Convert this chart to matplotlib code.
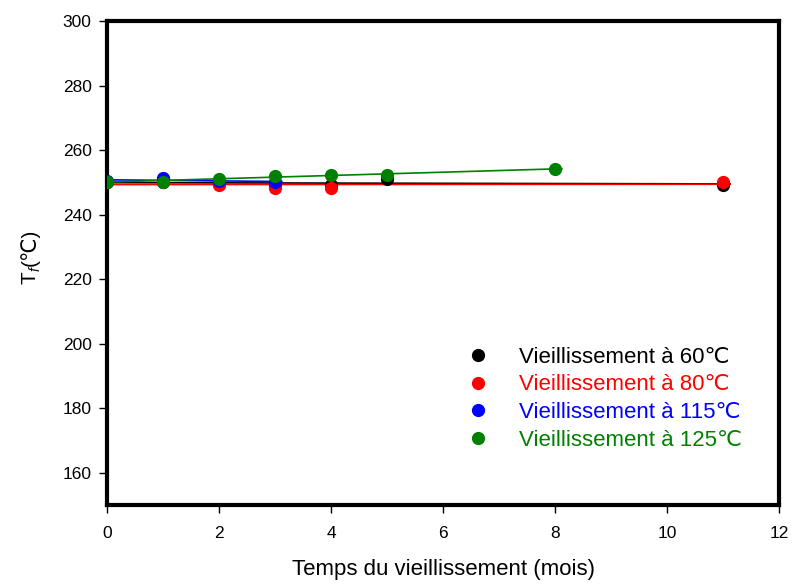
import numpy as np
import matplotlib
matplotlib.use("Agg")
import matplotlib.pyplot as plt

plt.rcParams['font.family'] = ['Liberation Sans', 'DejaVu Sans']

months_60 = [0, 1, 2, 3, 4, 5, 11]
tf_60 = [250.0, 250.0, 249.6, 249.2, 249.3, 251.0, 249.3]
months_80 = [0, 1, 2, 3, 4, 11]
tf_80 = [250.1, 250.0, 249.3, 248.3, 248.3, 250.0]
months_115 = [0, 1, 2, 3]
tf_115 = [250.3, 251.3, 250.5, 250.0]
months_125 = [0, 1, 2, 3, 4, 5, 8]
tf_125 = [250.2, 250.2, 251.1, 252.1, 252.2, 252.3, 254.2]

labels = ["Vieillissement à 60\u2103", "Vieillissement à 80\u2103",
          "Vieillissement à 115\u2103", "Vieillissement à 125\u2103"]
colors = ["black", "red", "blue", "green"]
series = [(months_60, tf_60), (months_80, tf_80), (months_115, tf_115), (months_125, tf_125)]

W, H = 792, 585
fig = plt.figure(figsize=(W / 100, H / 100), dpi=100)
ax = fig.add_axes([0.135, 0.137, 0.849, 0.827])

handles = []
for (xs, ys), c, lab in zip(series, colors, labels):
    xs = np.array(xs, float); ys = np.array(ys, float)
    p = np.polyfit(xs, ys, 1)
    xf = np.array([xs.min(), xs.max() + 0.12])
    ax.plot(xf, np.polyval(p, xf), color=c, lw=1.2, zorder=2)
    ax.errorbar(xs, ys, yerr=0.4, fmt='none', ecolor=c, elinewidth=1, capsize=3, zorder=3)
    h, = ax.plot(xs, ys, 'o', color=c, ms=8.5, zorder=4, label=lab)
    handles.append(h)

ax.set_xlim(0, 12)
ax.set_ylim(150, 300)
ax.set_xticks(range(0, 13, 2))
ax.set_yticks(range(160, 301, 20))
for s in ax.spines.values():
    s.set_linewidth(3)
ax.tick_params(axis='both', direction='out', length=6, width=1, labelsize=12.5, top=False, right=False)
ax.tick_params(axis='x', pad=9)
ax.tick_params(axis='y', pad=5)
ax.set_xlabel("Temps du vieillissement (mois)", fontsize=16, labelpad=13)

leg = ax.legend(handles=handles, loc='upper left', bbox_to_anchor=(0.497, 0.368), frameon=False,
                fontsize=16, handlelength=1.5, handletextpad=1.1, labelspacing=0.3,
                borderpad=0.4, numpoints=1)
for t, c in zip(leg.get_texts(), colors):
    t.set_color(c)

# y label "T_f(℃)" composed of pieces (rotated)
fig.canvas.draw()
r = fig.canvas.get_renderer()
bx = 36.0
y0 = H - 284.0
kw = dict(rotation=90, rotation_mode='anchor', ha='left', va='baseline')
t1 = fig.text(bx / W, y0 / H, "T", fontsize=15, **kw)
h1 = t1.get_window_extent(r).height
t2 = fig.text((bx + 4) / W, (y0 + h1) / H, "f", fontsize=10, style='italic', **kw)
h2 = t2.get_window_extent(r).height
t3 = fig.text(bx / W, (y0 + h1 + h2 + 1) / H, "(\u2103)", fontsize=15, **kw)

fig.savefig("out.png", dpi=100)
